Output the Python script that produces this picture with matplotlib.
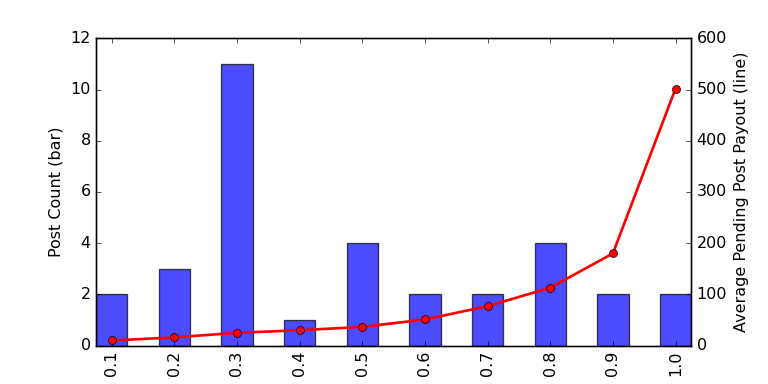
import matplotlib
matplotlib.use("Agg")
import matplotlib.pyplot as plt
import numpy as np

plt.style.use("classic")

categories = ["0.1", "0.2", "0.3", "0.4", "0.5", "0.6", "0.7", "0.8", "0.9", "1.0"]
post_count = [2, 3, 11, 1, 4, 2, 2, 4, 2, 2]
avg_payout = [10, 16, 25, 30, 36.5, 51, 77, 113, 180, 502]

fig = plt.figure(figsize=(8, 4), dpi=96)
fig.patch.set_facecolor("white")
ax = fig.add_subplot(111)
x = np.arange(len(categories))
ax.bar(x, post_count, width=0.5, color="b", alpha=0.7, edgecolor="k", align="center")
ax.set_xlim(-0.25, len(categories) - 0.75)
ax.set_ylim(0, 12)
ax.set_xticks(x)
ax.set_xticklabels(categories, rotation=90)
ax.set_ylabel("Post Count (bar)")
ax.set_xlabel("percentile", labelpad=5.5)

ax2 = ax.twinx()
ax2.plot(x, avg_payout, color="r", lw=2, marker="o", markersize=6, markerfacecolor="r")
ax2.set_ylim(0, 600)
ax2.set_xlim(-0.25, len(categories) - 0.75)
ax2.set_ylabel("Average Pending Post Payout (line)")

fig.savefig("out.png", dpi=96, facecolor="white")
